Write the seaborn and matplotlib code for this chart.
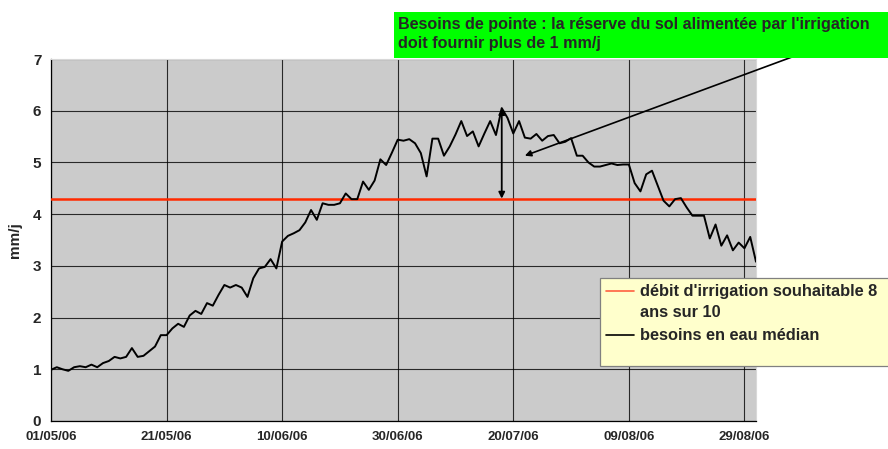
import pandas as pd
import seaborn as sns
import matplotlib.pyplot as plt
import matplotlib.dates as mdates
from matplotlib.lines import Line2D
from matplotlib.patches import Rectangle

# Données (besoins journaliers en mm/j, du 01/05/06 au 31/08/06)
date_debut = '2006-05-01'
besoins_median = [
    0.99, 1.04, 1.00, 0.97, 1.04, 1.06, 1.04, 1.09, 1.04, 1.12,
    1.16, 1.24, 1.21, 1.24, 1.41, 1.24, 1.26, 1.35, 1.44, 1.66,
    1.66, 1.79, 1.88, 1.82, 2.04, 2.13, 2.07, 2.28, 2.23, 2.44,
    2.63, 2.58, 2.63, 2.58, 2.40, 2.76, 2.95, 2.98, 3.13, 2.95,
    3.47, 3.58, 3.63, 3.69, 3.84, 4.08, 3.89, 4.21, 4.18, 4.18,
    4.21, 4.40, 4.29, 4.29, 4.63, 4.47, 4.65, 5.06, 4.95, 5.19,
    5.44, 5.42, 5.45, 5.37, 5.18, 4.73, 5.46, 5.46, 5.13, 5.31,
    5.54, 5.80, 5.51, 5.60, 5.31, 5.56, 5.80, 5.53, 6.05, 5.86,
    5.56, 5.80, 5.48, 5.46, 5.55, 5.42, 5.51, 5.53, 5.37, 5.40,
    5.47, 5.13, 5.13, 5.00, 4.92, 4.92, 4.95, 4.98, 4.95, 4.96,
    4.96, 4.60, 4.44, 4.77, 4.84, 4.55, 4.26, 4.15, 4.29, 4.31,
    4.13, 3.97, 3.97, 3.97, 3.53, 3.80, 3.39, 3.59, 3.30, 3.45,
    3.34, 3.56, 3.08,
]
debit_irrigation = 4.3
pic_date = '2006-07-18'
pic_valeur = 6.05
fleche_date = '2006-07-22'
fleche_valeur = 5.13

label_debit = "débit d'irrigation souhaitable 8\nans sur 10"
label_besoins = "besoins en eau médian"
texte_pointe = "Besoins de pointe : la réserve du sol alimentée par l'irrigation\ndoit fournir plus de 1 mm/j"

dates = pd.date_range(date_debut, periods=len(besoins_median), freq='D')
df = pd.DataFrame({'date': dates, 'besoins': besoins_median, 'debit': debit_irrigation})

sns.set_style('white', {'axes.facecolor': '#cbcbcb'})
plt.rcParams['font.family'] = ['Liberation Sans', 'DejaVu Sans']
plt.rcParams['font.weight'] = 'bold'

W, H = 888, 449
fig = plt.figure(figsize=(W / 100, H / 100), dpi=100)
ax = fig.add_axes([51 / W, 28 / H, (756 - 51) / W, (421 - 59) / H])

sns.lineplot(data=df, x='date', y='debit', color='#ff2a00', linewidth=1.8, ax=ax, zorder=3)
sns.lineplot(data=df, x='date', y='besoins', color='black', linewidth=1.4, ax=ax, zorder=4)

ax.set_xlim(dates[0], dates[-1])
ax.set_ylim(0, 7)
ax.set_yticks(range(0, 8))
ax.set_xticks(pd.date_range(date_debut, periods=7, freq='20D'))
ax.xaxis.set_major_formatter(mdates.DateFormatter('%d/%m/%y'))
ax.grid(True, color='black', linewidth=0.8, alpha=0.8)
ax.set_axisbelow(True)

for lab in ax.get_xticklabels():
    lab.set_family(['Liberation Sans Narrow', 'Liberation Sans', 'DejaVu Sans'])
    lab.set_fontsize(9.5)
    lab.set_fontweight('bold')
for lab in ax.get_yticklabels():
    lab.set_fontsize(11)
    lab.set_fontweight('bold')
ax.tick_params(axis='both', length=4, width=0.8, color='black', direction='out')
ax.tick_params(axis='x', pad=3)
ax.tick_params(axis='y', pad=3)

ax.set_xlabel('')
ax.set_ylabel('mm/j', fontsize=11, fontweight='bold', labelpad=8)

for side in ['left', 'bottom']:
    ax.spines[side].set_color('black')
    ax.spines[side].set_linewidth(0.9)
for side in ['top', 'right']:
    ax.spines[side].set_color('#d8d8d8')
    ax.spines[side].set_linewidth(0.8)

# flèche verticale du pic jusqu'au débit
ax.annotate('', xy=(pd.Timestamp(pic_date), debit_irrigation),
            xytext=(pd.Timestamp(pic_date), pic_valeur),
            arrowprops=dict(arrowstyle='<|-|>', color='black', lw=1.3, mutation_scale=9,
                            shrinkA=0, shrinkB=0), zorder=5)

# trait de l'encadré vers la courbe
ax.annotate('', xy=(pd.Timestamp(fleche_date), fleche_valeur), xytext=(792, H - 57),
            textcoords='figure pixels',
            arrowprops=dict(arrowstyle='-|>', color='black', lw=1.2, mutation_scale=9,
                            shrinkA=0, shrinkB=0), annotation_clip=False, zorder=6)

# encadré vert
fig.patches.append(Rectangle((394 / W, (H - 58) / H), (W - 394) / W, 46 / H,
                             transform=fig.transFigure, facecolor='#00ff00', edgecolor='none',
                             zorder=1))
fig.text(398 / W, (H - 34) / H, texte_pointe, fontsize=11.6, fontweight='bold',
         va='center', ha='left', linespacing=1.3, zorder=2)

# légende dessinée à la main (le trait rouge est aligné sur la 1re ligne du libellé)
ax.add_patch(Rectangle((600 / W, (H - 366) / H), 300 / W, 88 / H,
                       transform=fig.transFigure, facecolor='#ffffcc', edgecolor='#808080',
                       linewidth=0.9, clip_on=False, zorder=7))
for couleur, y_px, texte in [('#ff6040', 291, label_debit), ('black', 335, label_besoins)]:
    ax.add_line(Line2D([606 / W, 634 / W], [(H - y_px) / H] * 2, color=couleur, lw=1.2,
                       transform=fig.transFigure, clip_on=False, zorder=8))
    ax.text(640 / W, (H - y_px + 7) / H, texte, transform=fig.transFigure, fontsize=11.8,
            fontweight='bold', va='top', ha='left', linespacing=1.5, zorder=8)

plt.savefig('out.png', dpi=100)
